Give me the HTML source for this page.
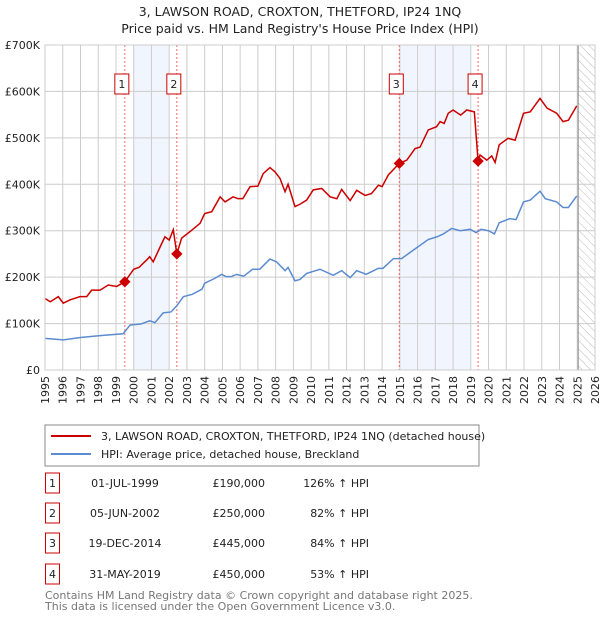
<!DOCTYPE html>
<html><head><meta charset="utf-8"><style>
body{margin:0;background:#fff;font-family:"DejaVu Sans","Liberation Sans",sans-serif}
#wrap{position:relative;width:600px;height:620px;overflow:hidden}
</style></head><body><div id="wrap">
<svg id="svg" width="600" height="620" xmlns="http://www.w3.org/2000/svg" font-family="DejaVu Sans, Liberation Sans, sans-serif">
<defs><pattern id="hatch" width="6" height="6" patternUnits="userSpaceOnUse" patternTransform="rotate(-45)"><line x1="0" y1="0" x2="0" y2="6" stroke="#bbb" stroke-width="1"/></pattern></defs>
<text x="300" y="16" text-anchor="middle" font-size="12.5" fill="#222">3, LAWSON ROAD, CROXTON, THETFORD, IP24 1NQ</text>
<text x="300" y="33" text-anchor="middle" font-size="12.5" fill="#222">Price paid vs. HM Land Registry's House Price Index (HPI)</text>
<g id="plot"></g>
<rect x="45" y="425" width="434" height="41" fill="#fff" stroke="#888"/>
<line x1="51" y1="436" x2="91" y2="436" stroke="#cc0000" stroke-width="2"/>
<text x="101" y="440" font-size="11" fill="#222">3, LAWSON ROAD, CROXTON, THETFORD, IP24 1NQ (detached house)</text>
<line x1="51" y1="454" x2="91" y2="454" stroke="#5b8bd0" stroke-width="2"/>
<text x="101" y="458" font-size="11" fill="#222">HPI: Average price, detached house, Breckland</text>
<g id="table" font-size="11" fill="#222"></g>
<text x="45" y="599" font-size="11" fill="#777">Contains HM Land Registry data © Crown copyright and database right 2025.</text>
<text x="45" y="610" font-size="11" fill="#777">This data is licensed under the Open Government Licence v3.0.</text>
</svg></div>
<script>
const yTicks=[0,100,200,300,400,500,600,700];
const yTickLabels=["£0","£100K","£200K","£300K","£400K","£500K","£600K","£700K"];
const years=[1995,1996,1997,1998,1999,2000,2001,2002,2003,2004,2005,2006,2007,2008,2009,2010,2011,2012,2013,2014,2015,2016,2017,2018,2019,2020,2021,2022,2023,2024,2025,2026];
const redT=[1995.0,1995.3,1995.75,1996.03,1996.4,1996.97,1997.35,1997.63,1998.1,1998.57,1999.04,1999.5,2000.0,2000.3,2000.73,2000.9,2001.1,2001.5,2001.76,2002.0,2002.23,2002.43,2002.7,2003.17,2003.74,2004.0,2004.4,2004.87,2005.15,2005.6,2005.87,2006.15,2006.56,2007.0,2007.3,2007.68,2007.96,2008.24,2008.53,2008.7,2009.09,2009.37,2009.75,2010.12,2010.6,2011.07,2011.45,2011.72,2012.2,2012.57,2013.04,2013.4,2013.79,2014.0,2014.35,2014.97,2015.39,2015.86,2016.14,2016.6,2017.07,2017.27,2017.5,2017.73,2018.0,2018.43,2018.77,2019.2,2019.41,2019.52,2019.9,2020.18,2020.37,2020.6,2021.1,2021.5,2021.97,2022.35,2022.9,2023.3,2023.84,2024.2,2024.5,2024.97];
const redV=[154,147,158,144,151,158,158,172,172,183,180,190,217,221,237,244,233,266,287,280,302,250,284,298,316,337,341,373,362,373,369,369,395,396,423,436,427,413,384,400,352,357,366,388,391,373,369,389,365,387,376,380,398,395,420,445,452,477,480,517,524,535,531,553,560,549,560,556,450,463,452,461,447,485,499,495,553,556,585,564,553,535,538,569];
const blueT=[1995.0,1996.03,1997.0,1998.1,1999.4,1999.8,2000.4,2000.9,2001.2,2001.66,2002.1,2002.42,2002.8,2003.3,2003.85,2004.0,2004.5,2004.96,2005.2,2005.5,2005.8,2006.2,2006.7,2007.1,2007.68,2008.05,2008.53,2008.7,2009.09,2009.37,2009.75,2010.5,2011.25,2011.72,2012.2,2012.57,2013.1,2013.79,2014.05,2014.64,2015.1,2015.75,2016.6,2017.1,2017.45,2017.92,2018.4,2018.96,2019.3,2019.58,2020.0,2020.33,2020.6,2021.2,2021.55,2021.97,2022.35,2022.9,2023.2,2023.84,2024.2,2024.5,2024.97];
const blueV=[68,65,70,74,78,97,99,106,102,123,125,138,158,163,174,187,196,206,201,201,206,202,217,217,239,233,214,221,192,195,208,217,204,214,199,214,206,219,219,240,240,258,281,287,293,305,300,303,296,303,300,293,317,326,324,362,366,385,369,362,350,350,375];
const saleLabels=["1","2","3","4"];
const saleT=[1999.5,2002.43,2014.97,2019.41];
const saleV=[190,250,445,450];
const saleDates=["01-JUL-1999","05-JUN-2002","19-DEC-2014","31-MAY-2019"];
const salePrices=["£190,000","£250,000","£445,000","£450,000"];
const saleHpi=["126% ↑ HPI","82% ↑ HPI","84% ↑ HPI","53% ↑ HPI"];
const bands=[[2000,2002],[2015,2019]];
const X0=45,X1=595,Y0=370,Y1=45;
const xS=t=>X0+(t-1995)/(2026-1995)*(X1-X0);
const yS=v=>Y0-v/700*(Y0-Y1);
const NS="http://www.w3.org/2000/svg";
const plot=document.getElementById('plot');
function mk(tag,attrs,parent){const e=document.createElementNS(NS,tag);for(const k in attrs)e.setAttribute(k,attrs[k]);(parent||plot).appendChild(e);return e;}
bands.forEach(b=>{const r=mk('rect',{x:xS(b[0]),y:Y1,width:xS(b[1])-xS(b[0]),height:Y0-Y1,fill:'#eef3fc',opacity:0.8});

});
const h=mk('rect',{x:xS(2025.05),y:Y1,width:X1-xS(2025.05),height:Y0-Y1,fill:'url(#hatch)'});


years.forEach(y=>{const l=mk('line',{x1:xS(y),x2:xS(y),y1:Y1,y2:Y0,stroke:'#ccc','stroke-width':1});


const t=mk('text',{x:0,y:0,transform:`translate(${xS(y)+4},${Y0+6}) rotate(-90)`,'text-anchor':'end','font-size':11,fill:'#222'});t.textContent=y;

});
yTicks.forEach((v,i)=>{const l=mk('line',{x1:X0,x2:X1,y1:yS(v),y2:yS(v),stroke:'#ccc','stroke-width':1});


const t=mk('text',{x:X0-5,y:yS(v)+4,'text-anchor':'end','font-size':11,fill:'#222'});t.textContent=yTickLabels[i];

});
const nl=mk('line',{x1:xS(2025.05),x2:xS(2025.05),y1:Y1,y2:Y0,stroke:'#888','stroke-width':1});


saleT.forEach((t,i)=>{const l=mk('line',{x1:xS(t),x2:xS(t),y1:Y1,y2:Y0,stroke:'#e66','stroke-width':1,'stroke-dasharray':'2,2'});


const r=mk('rect',{x:xS(t)-10,y:74,width:14,height:20,fill:'#fff',stroke:'#cc0000'});


const tx=mk('text',{x:xS(t)-3,y:88,'text-anchor':'middle','font-size':11,fill:'#222'});tx.textContent=saleLabels[i];

});
const bp=mk('polyline',{points:blueT.map((t,i)=>xS(t)+','+yS(blueV[i])).join(' '),fill:'none',stroke:'#5b8bd0','stroke-width':1.5});


const rp=mk('polyline',{points:redT.map((t,i)=>xS(t)+','+yS(redV[i])).join(' '),fill:'none',stroke:'#cc0000','stroke-width':1.5});


saleT.forEach((t,i)=>{const d=mk('rect',{x:xS(t)-4,y:yS(saleV[i])-4,width:8,height:8,fill:'#cc0000',transform:`rotate(45 ${xS(t)} ${yS(saleV[i])})`});

});
const ax=mk('rect',{x:X0,y:Y1,width:X1-X0,height:Y0-Y1,fill:'none',stroke:'#ccc'});


const tb=document.getElementById('table');
const rowY=[483,513,543,574];
saleT.forEach((t,i)=>{const y=rowY[i];
const r=mk('rect',{x:45.5,y:y-10,width:14,height:20,fill:'#fff',stroke:'#cc0000'},tb);


const a=mk('text',{x:52.5,y:y+4,'text-anchor':'middle'},tb);a.textContent=saleLabels[i];


const b=mk('text',{x:125,y:y+4,'text-anchor':'middle'},tb);b.textContent=saleDates[i];


const c=mk('text',{x:265,y:y+4,'text-anchor':'end'},tb);c.textContent=salePrices[i];


const d=mk('text',{x:369,y:y+4,'text-anchor':'end'},tb);d.textContent=saleHpi[i];

});
</script></body></html>
